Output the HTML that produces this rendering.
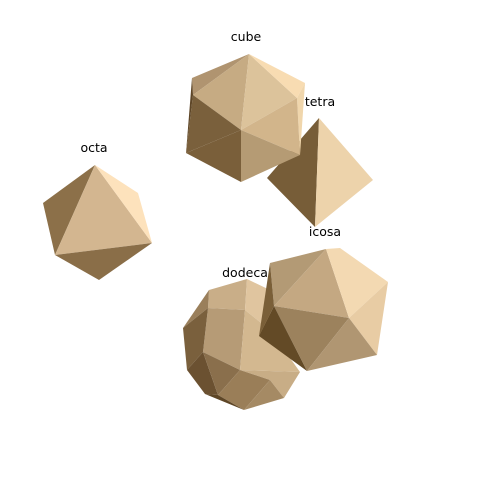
<!DOCTYPE html>
<html><head><meta charset="utf-8"><style>
html,body{margin:0;padding:0;background:#fff;}
svg text{font-family:"DejaVu Sans","Liberation Sans",sans-serif;font-size:12.5px;fill:#000;}
</style></head><body>
<svg width="480" height="480" viewBox="0 0 480 480">
<g>
<polygon points="95,165 43,203 55,255" fill="#8c7049"/>
<polygon points="95,165 55,255 152,243" fill="#d3b690"/>
<polygon points="95,165 138,193 152,243" fill="#fde2bc"/>
<polygon points="55,255 152,243 99,280" fill="#8a6e48"/>
</g>
<text x="94" y="152" text-anchor="middle">octa</text>
<g>
<polygon points="319,118 267,178 315,227" fill="#775d38"/>
<polygon points="319,118 315,227 373,180" fill="#edd3ab"/>
</g>
<g>
<polygon points="192,78 249,54 193,95" fill="#b09470"/>
<polygon points="249,54 193,95 241,130" fill="#c6ab83"/>
<polygon points="249,54 241,130 297,98" fill="#dcc39b"/>
<polygon points="249,54 297,98 305,83" fill="#f8dcb2"/>
<polygon points="305,83 297,98 300,155" fill="#f0d6ac"/>
<polygon points="297,98 241,130 300,155" fill="#d2b58b"/>
<polygon points="193,95 241,130 186,153" fill="#7a603c"/>
<polygon points="192,78 193,95 186,153" fill="#5e4627"/>
<polygon points="186,153 241,130 241,182" fill="#7a5f3a"/>
<polygon points="241,130 300,155 241,182" fill="#b59b74"/>
</g>
<text x="246" y="41" text-anchor="middle">cube</text>
<text x="320" y="106" text-anchor="middle">tetra</text>
<g>
<polygon points="209,290 247,279 245,310 208,308" fill="#c9ae88"/>
<polygon points="247,279 270,290 270,330 245,310" fill="#e0c59f"/>
<polygon points="183,328 209,290 208,308" fill="#9a7f5b"/>
<polygon points="208,308 245,310 240,370 203,352" fill="#b69b76"/>
<polygon points="245,310 270,330 300,372 240,370" fill="#d3b890"/>
<polygon points="183,328 208,308 203,352 187,370" fill="#7a603d"/>
<polygon points="187,370 203,352 218,395 205,394" fill="#6b5131"/>
<polygon points="203,352 240,370 218,395" fill="#8a6f4c"/>
<polygon points="240,370 300,372 284,398 270,380" fill="#c8ad86"/>
<polygon points="218,395 240,370 270,380 244,410" fill="#9a7e58"/>
<polygon points="205,394 218,395 244,410" fill="#5e4626"/>
<polygon points="244,410 270,380 284,398" fill="#a58a64"/>
</g>
<text x="245" y="277" text-anchor="middle">dodeca</text>
<g>
<polygon points="270,263 326,249 274,306" fill="#b39a75"/>
<polygon points="326,249 349,318 274,306" fill="#c4a882"/>
<polygon points="326,249 340,248 388,282 349,318" fill="#f3d9b2"/>
<polygon points="388,282 349,318 377,355" fill="#e8cca4"/>
<polygon points="274,306 349,318 307,371" fill="#9c825d"/>
<polygon points="349,318 377,355 307,371" fill="#b09672"/>
<polygon points="270,263 274,306 259,336" fill="#7a5f38"/>
<polygon points="274,306 259,336 307,371" fill="#634a26"/>
</g>
<text x="325" y="236" text-anchor="middle">icosa</text>
</svg>
</body></html>
